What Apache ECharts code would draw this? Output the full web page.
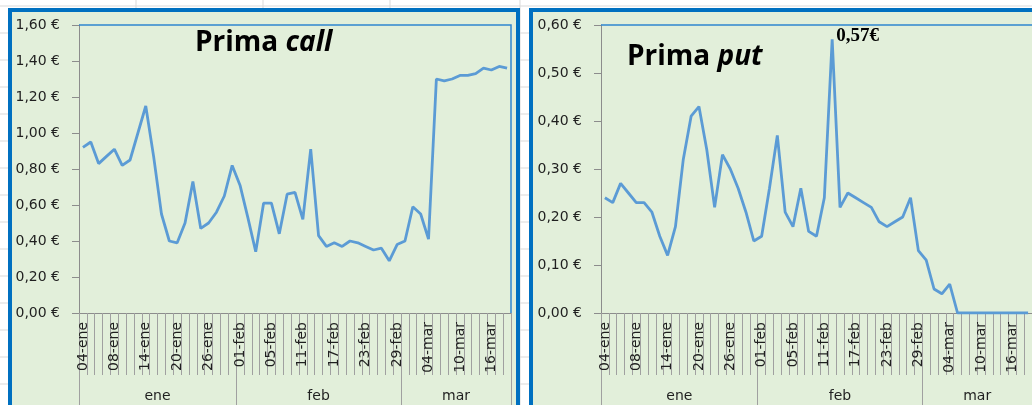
<!DOCTYPE html>
<html>
<head>
<meta charset="utf-8">
<script src="https://cdn.jsdelivr.net/npm/echarts@6/dist/echarts.min.js"></script>
<style>
  html, body { margin: 0; padding: 0; background: #ffffff; }
  #chart { width: 1032px; height: 405px; }
</style>
</head>
<body>
<div id="chart"></div>
<script>
// Trading days, January to mid-March
const categories = [
  '04-ene','05-ene','06-ene','07-ene','08-ene','11-ene','12-ene','13-ene','14-ene','15-ene',
  '18-ene','19-ene','20-ene','21-ene','22-ene','25-ene','26-ene','27-ene','28-ene','29-ene',
  '01-feb','02-feb','03-feb','04-feb','05-feb','08-feb','09-feb','10-feb','11-feb','12-feb',
  '15-feb','16-feb','17-feb','18-feb','19-feb','22-feb','23-feb','24-feb','25-feb','26-feb','29-feb',
  '01-mar','02-mar','03-mar','04-mar','07-mar','08-mar','09-mar','10-mar','11-mar',
  '14-mar','15-mar','16-mar','17-mar','18-mar'
];

// Call premium (EUR)
const callValues = [
  0.92, 0.95, 0.83, 0.87, 0.91, 0.82, 0.85, 1.00, 1.15, 0.87,
  0.55, 0.40, 0.39, 0.50, 0.73, 0.47, 0.50, 0.56, 0.65, 0.82,
  0.71, 0.53, 0.34, 0.61, 0.61, 0.44, 0.66, 0.67, 0.52, 0.91,
  0.43, 0.37, 0.39, 0.37, 0.40, 0.39, 0.37, 0.35, 0.36, 0.29, 0.38,
  0.40, 0.59, 0.55, 0.41, 1.30, 1.29, 1.30, 1.32, 1.32,
  1.33, 1.36, 1.35, 1.37, 1.36
];

// Put premium (EUR)
const putValues = [
  0.24, 0.23, 0.27, 0.25, 0.23, 0.23, 0.21, 0.16, 0.12, 0.18,
  0.32, 0.41, 0.43, 0.34, 0.22, 0.33, 0.30, 0.26, 0.21, 0.15,
  0.16, 0.26, 0.37, 0.21, 0.18, 0.26, 0.17, 0.16, 0.24, 0.57,
  0.22, 0.25, 0.24, 0.23, 0.22, 0.19, 0.18, 0.19, 0.20, 0.24, 0.13,
  0.11, 0.05, 0.04, 0.06, 0.00, 0.00, 0.00, 0.00, 0.00,
  0.00, 0.00, 0.00, 0.00, 0.00
];

const callAxis = { max: 1.6, step: 0.2 };
const putAxis = { max: 0.6, step: 0.1 };

// Month groups derived from the category suffixes
const monthNames = [];
const monthCounts = [];
categories.forEach(c => {
  const m = c.split('-')[1];
  if (monthNames[monthNames.length - 1] !== m) { monthNames.push(m); monthCounts.push(0); }
  monthCounts[monthCounts.length - 1]++;
});
const monthEdges = [0];
monthCounts.forEach(n => monthEdges.push(monthEdges[monthEdges.length - 1] + n));
const monthCenters = monthNames.map((_, i) => (monthEdges[i] + monthEdges[i + 1]) / 2);

// Layout
const PLOT_TOP = 25, PLOT_H = 288, PLOT_W = 432;
const LEFT_A = 79, LEFT_B = 601;
const LINE_BLUE = '#5B9BD5';
const FRAME_BLUE = '#0070C0';
const PANEL_BG = '#E2EFDA';
const AXIS_GRAY = '#8C8C8C';
const TICK_GRAY = '#A0A0A0';
const TEXT = '#1F1F1F';
const FONT = '"DejaVu Sans", Verdana, sans-serif';
const TITLE_FONT = '"Open Sans", sans-serif';

const euro = v => v.toFixed(2).replace('.', ',') + ' €';

function catAxis(grid) {
  return {
    type: 'category', gridIndex: grid, data: categories, boundaryGap: true,
    axisLine: { lineStyle: { color: AXIS_GRAY, width: 1 } },
    axisTick: { show: true, interval: 0, length: 62, lineStyle: { color: TICK_GRAY } },
    axisLabel: { interval: 3, rotate: 90, margin: 9, fontSize: 14, color: TEXT, fontFamily: FONT },
    splitLine: { show: false }
  };
}
function monthAxis(grid) {
  return {
    type: 'value', gridIndex: grid, min: 0, max: categories.length, position: 'bottom',
    axisLine: { show: false },
    axisTick: { show: true, customValues: monthEdges, length: 110, lineStyle: { color: TICK_GRAY } },
    axisLabel: {
      customValues: monthCenters, margin: 76, fontSize: 14, color: TEXT, fontFamily: FONT,
      formatter: v => {
        let best = 0;
        monthCenters.forEach((c, i) => { if (Math.abs(c - v) < Math.abs(monthCenters[best] - v)) best = i; });
        return monthNames[best];
      }
    },
    splitLine: { show: false }
  };
}
function valAxis(grid, cfg) {
  return {
    type: 'value', gridIndex: grid, min: 0, max: cfg.max, interval: cfg.step,
    axisLine: { show: true, lineStyle: { color: AXIS_GRAY } },
    axisTick: { show: true, length: 7, lineStyle: { color: AXIS_GRAY } },
    axisLabel: { margin: 19, fontSize: 14, color: TEXT, fontFamily: FONT, formatter: euro },
    splitLine: { show: false }
  };
}

const peakIdx = putValues.indexOf(Math.max(...putValues));

// Spreadsheet cell lines behind the panels
const sheetLines = [];
for (let y = 6; y < 405; y += 27) {
  sheetLines.push({ type: 'line', z: -10, shape: { x1: 0, y1: y, x2: 1032, y2: y }, style: { stroke: '#D9D9D9', lineWidth: 1 } });
}
[136, 263, 390, 520].forEach(x => {
  sheetLines.push({ type: 'line', z: -10, shape: { x1: x, y1: 0, x2: x, y2: 405 }, style: { stroke: '#D9D9D9', lineWidth: 1 } });
});

function plotBorder(left) {
  return {
    type: 'polyline', z: 1,
    shape: { points: [[left, PLOT_TOP], [left + PLOT_W, PLOT_TOP], [left + PLOT_W, PLOT_TOP + PLOT_H]] },
    style: { stroke: '#2F86D0', lineWidth: 1.5, fill: null }
  };
}

function panelTitle(left, top, plain, italic) {
  return {
    type: 'text', z: 5, left: left, top: top,
    style: {
      text: '{a|' + plain + ' }{b|' + italic + '}',
      rich: {
        a: { fontFamily: TITLE_FONT, fontWeight: 'bold', fontSize: 28, fill: '#000' },
        b: { fontFamily: TITLE_FONT, fontWeight: 'bold', fontStyle: 'italic', fontSize: 28, fill: '#000' }
      }
    }
  };
}

const chart = echarts.init(document.getElementById('chart'));
chart.setOption({
  animation: false,
  backgroundColor: '#ffffff',
  grid: [
    { left: LEFT_A, top: PLOT_TOP, width: PLOT_W, height: PLOT_H },
    { left: LEFT_B, top: PLOT_TOP, width: PLOT_W, height: PLOT_H }
  ],
  xAxis: [catAxis(0), monthAxis(0), catAxis(1), monthAxis(1)],
  yAxis: [valAxis(0, callAxis), valAxis(1, putAxis)],
  graphic: [
    ...sheetLines,
    { type: 'rect', z: -5, shape: { x: 10, y: 10, width: 508, height: 420 }, style: { fill: PANEL_BG, stroke: FRAME_BLUE, lineWidth: 4 } },
    { type: 'rect', z: -5, shape: { x: 531, y: 10, width: 600, height: 420 }, style: { fill: PANEL_BG, stroke: FRAME_BLUE, lineWidth: 4 } },
    plotBorder(LEFT_A),
    plotBorder(LEFT_B),
    panelTitle(195, 29, 'Prima', 'call'),
    panelTitle(627, 43, 'Prima', 'put')
  ],
  series: [
    {
      name: 'Prima call', type: 'line', xAxisIndex: 0, yAxisIndex: 0, data: callValues,
      symbol: 'none', lineStyle: { color: LINE_BLUE, width: 2.8 }, z: 3
    },
    {
      name: 'Prima put', type: 'line', xAxisIndex: 2, yAxisIndex: 1, data: putValues,
      symbol: 'none', lineStyle: { color: LINE_BLUE, width: 2.8 }, z: 3,
      markPoint: {
        symbol: 'circle', symbolSize: 0,
        data: [{ coord: [categories[peakIdx], putValues[peakIdx]], value: putValues[peakIdx] }],
        label: {
          show: true, position: 'right', distance: 4, offset: [0, -3],
          formatter: p => p.value.toFixed(2).replace('.', ',') + '€',
          fontFamily: '"Liberation Serif", serif', fontWeight: 'bold', fontSize: 19, color: '#000'
        }
      }
    }
  ]
});
</script>
</body>
</html>
